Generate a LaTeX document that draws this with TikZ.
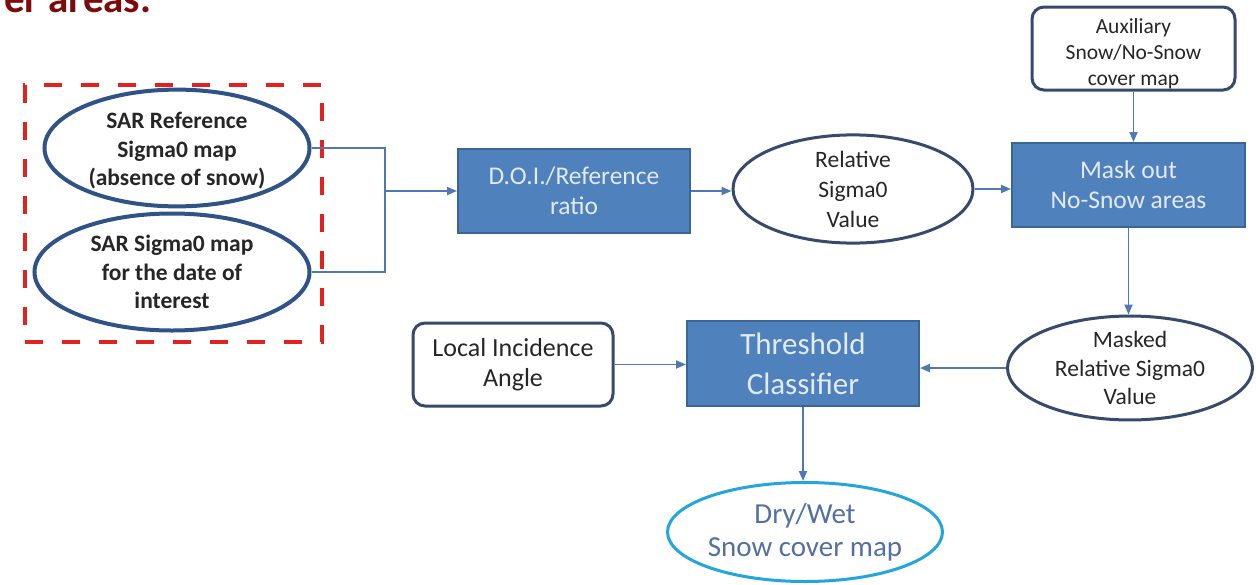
\documentclass[tikz,border=0pt]{standalone}
\usepackage{fontspec}
\setmainfont{Carlito}
\usetikzlibrary{shapes.geometric,arrows.meta}
\definecolor{boxblue}{HTML}{4F81BD}
\definecolor{boxedge}{HTML}{3A6599}
\definecolor{sarblue}{HTML}{2F5287}
\definecolor{grayblue}{HTML}{364A6B}
\definecolor{linkblue}{HTML}{5078B3}
\definecolor{boxtext}{HTML}{E2EAF5}
\definecolor{darktext}{HTML}{262626}
\definecolor{dashred}{HTML}{E0231F}
\definecolor{titlered}{HTML}{7D0B0B}
\definecolor{drycyan}{HTML}{22A6DD}
\definecolor{drytext}{HTML}{5470A0}
\tikzset{
  sarell/.style={ellipse, draw=sarblue, line width=4pt, fill=white, inner sep=0pt,
    align=center, text=darktext, font=\fontsize{23.5}{28.5}\selectfont\bfseries},
  plainell/.style={ellipse, draw=grayblue, line width=3pt, fill=white, inner sep=0pt,
    align=center, text=darktext, font=\fontsize{23.5}{28.5}\selectfont},
  bluebox/.style={rectangle, draw=boxedge, line width=2pt, fill=boxblue, inner sep=0pt,
    align=center, text=boxtext, font=\fontsize{25.5}{30}\selectfont},
  roundbox/.style={rectangle, rounded corners=12pt, draw=grayblue, line width=3pt, fill=white,
    inner sep=0pt, align=center, text=darktext},
  link/.style={draw=linkblue, line width=1.8pt},
  arrowlink/.style={link, -{Triangle[length=10pt,width=8pt]}},
}
\begin{document}
\begin{tikzpicture}[x=1pt,y=-1pt]
\clip (0,0) rectangle (1256,584);
\path[use as bounding box, fill=white] (0,0) rectangle (1256,584);

% title fragment (cut off at the top edge, as in the reference)
\node[anchor=base west, inner sep=0pt, text=titlered,
  font=\fontsize{41}{48}\selectfont\bfseries] (title) at (4,12) {er areas.};

% dashed group frame
\node[draw=dashred, line width=4.5pt, dash pattern=on 18pt off 19pt,
  minimum width=297pt, minimum height=257pt, inner sep=0pt] (grp) at (173.5,213.5) {};

% nodes
\node[sarell, minimum width=265pt, minimum height=107pt] (sar1) at (177,148)
  {\rule{0pt}{22pt}SAR Reference\\Sigma0 map\\(absence of snow)};
\node[sarell, minimum width=275pt, minimum height=117pt] (sar2) at (172,272)
  {SAR Sigma0 map\\for the date of\\interest};

\node[bluebox, minimum width=232pt, minimum height=84pt] (doi) at (574,191)
  {D.O.I./Reference\\ratio};
\node[plainell, minimum width=240pt, minimum height=98pt,
  font=\fontsize{23.5}{30}\selectfont] (rel) at (853,189)
  {Relative\\Sigma0\\Value};
\node[bluebox, minimum width=233pt, minimum height=84pt] (mask) at (1128.5,185)
  {Mask out\\No-Snow areas};
\node[roundbox, minimum width=203pt, minimum height=83pt,
  font=\fontsize{21.5}{26}\selectfont] (aux) at (1133.5,48.5)
  {\rule{0pt}{25pt}Auxiliary\\Snow/No-Snow\\cover map};
\node[plainell, minimum width=245pt, minimum height=100pt] (masked) at (1130,368)
  {Masked\\Relative Sigma0\\Value};
\node[bluebox, minimum width=232pt, minimum height=85pt,
  font=\fontsize{31}{40}\selectfont] (thr) at (803,363.5)
  {Threshold\\Classifier};
\node[roundbox, minimum width=200pt, minimum height=83pt,
  font=\fontsize{26}{30}\selectfont] (loc) at (513,364.5)
  {Local Incidence\\Angle};
\node[ellipse, draw=drycyan, line width=3pt, fill=white, inner sep=0pt,
  minimum width=244pt, minimum height=99pt, align=center, text=drytext,
  font=\fontsize{29}{33}\selectfont] (dry) at (805,532)
  {Dry/Wet\\Snow cover map};

% connectors
\coordinate (j) at (385,191);
\draw[link] (sar1.east) -| (j);
\draw[link] (sar2.east) -| (j);
\draw[arrowlink] (j) -- (doi.west);
\draw[arrowlink] (doi.east) -- (doi.east -| rel.west);
\draw[arrowlink] (rel.east) -- (rel.east -| mask.west);
\draw[arrowlink] (aux.south) -- (aux.south |- mask.north);
\draw[arrowlink] (mask.south) -- (mask.south |- masked.north);
\draw[arrowlink] (masked.west) -- (masked.west -| thr.east);
\draw[arrowlink] (loc.east) -- (loc.east -| thr.west);
\draw[arrowlink] (thr.south) -- (thr.south |- dry.north);
\end{tikzpicture}
\end{document}
